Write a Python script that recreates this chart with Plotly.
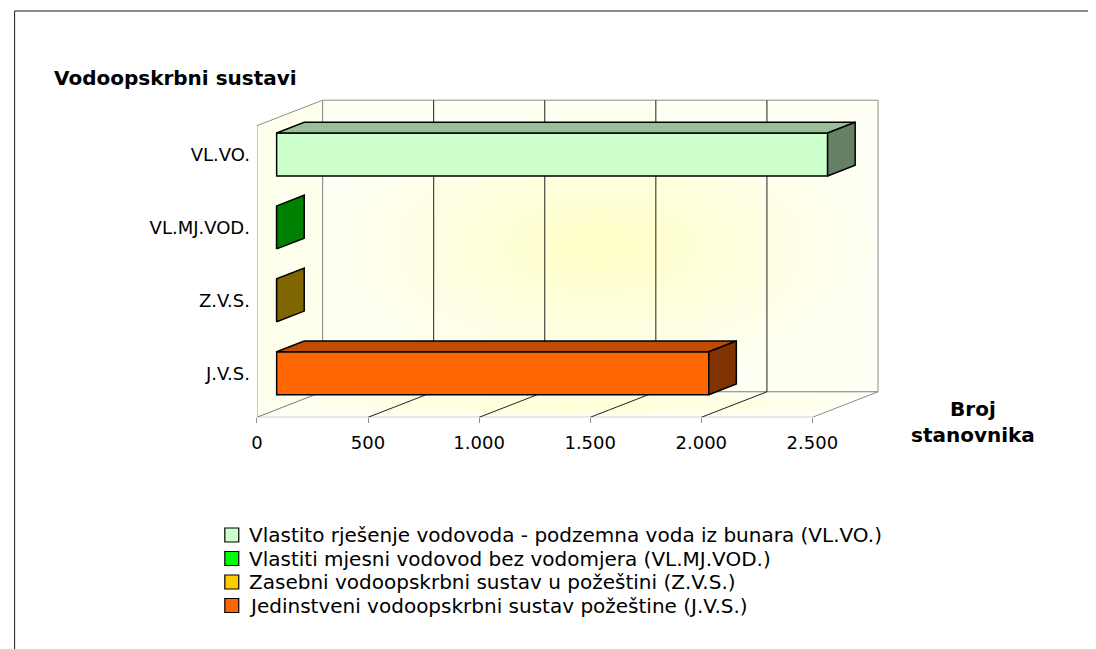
import plotly.graph_objects as go

# --- data ---
categories = ["VL.VO.", "VL.MJ.VOD.", "Z.V.S.", "J.V.S."]
series_names = [
    "Vlastito rješenje vodovoda - podzemna voda iz bunara (VL.VO.)",
    "Vlastiti mjesni vodovod bez vodomjera (VL.MJ.VOD.)",
    "Zasebni vodoopskrbni sustav u požeštini (Z.V.S.)",
    "Jedinstveni vodoopskrbni sustav požeštine (J.V.S.)",
]
stanovnici = [2480, 0, 0, 1945]
bar_colors = ["#CCFFCC", "#00FF00", "#FFCC00", "#FF6600"]
x_ticks = [0, 500, 1000, 1500, 2000, 2500]
x_ticktext = ["0", "500", "1.000", "1.500", "2.000", "2.500"]

FONT = "DejaVu Sans"
OFF = 8                      # default body margin of the html page
W, H = 1096 - OFF, 649 - OFF


def fx(px):
    return (px - OFF) / W


def fy(py):
    return 1 - (py - OFF) / H


# page-pixel geometry of the pseudo-3D box (Excel style)
px_x0, px_per_val = 252.3, 0.2234
px_floor, px_per_cat = 417.3, 72.9
px_right, px_top = 884, 95
DX = 66 / px_per_val          # depth offset in value units
DY = 25.5 / px_per_cat        # depth offset in category units
f1, f2 = 0.30, 0.72           # front / back depth of the bars
half_h = 0.295                # half bar thickness
vmax = x_ticks[-1]
ncat = len(categories)
y_lo, y_hi = -0.5, ncat - 0.5


def shade(hex_color, k):
    h = hex_color.lstrip("#")
    r, g, b = (int(h[i:i + 2], 16) for i in (0, 2, 4))
    return "#%02X%02X%02X" % (round(r * k), round(g * k), round(b * k))


def poly(xs, ys, **kw):
    return go.Scatter(x=xs + xs[:1], y=ys + ys[:1], mode="lines", fill="toself",
                      hoverinfo="skip", showlegend=False, **kw)


fig = go.Figure()

# walls and floor (base subplot, drawn under the bars)
wall_line = dict(color="#8C8C8C", width=1)
fig.add_trace(poly([DX, DX + vmax, DX + vmax, DX],
                   [y_lo + DY, y_lo + DY, y_hi + DY, y_hi + DY],
                   line=wall_line,
                   fillgradient=dict(type="radial",
                                     colorscale=[[0, "#FFFFC6"], [0.6, "#FFFFE4"], [1, "#FFFFF4"]])))
fig.add_trace(poly([0, 0, DX, DX], [y_lo, y_hi, y_hi + DY, y_lo + DY],
                   line=wall_line, fillcolor="#FFFFEE"))
fig.add_trace(poly([0, vmax, vmax + DX, DX], [y_lo, y_lo, y_lo + DY, y_lo + DY],
                   line=wall_line,
                   fillgradient=dict(type="radial",
                                     colorscale=[[0, "#FFFFD2"], [1, "#FFFFF4"]])))

# gridlines on back wall and floor
gx, gy = [], []
for t in x_ticks[1:-1]:
    gx += [DX + t, DX + t, None, t, t + DX, None]
    gy += [y_lo + DY, y_hi + DY, None, y_lo, y_lo + DY, None]
fig.add_trace(go.Scatter(x=gx, y=gy, mode="lines", line=dict(color="#202020", width=1),
                         hoverinfo="skip", showlegend=False))

# bars on an overlaying subplot so they sit above the walls
x0 = f1 * DX
dd, ddy = (f2 - f1) * DX, (f2 - f1) * DY
ypos = [ncat - 1 - i + f1 * DY for i in range(ncat)]
fig.add_trace(go.Bar(y=ypos, x=stanovnici, base=x0, width=2 * half_h, orientation="h",
                     marker=dict(color=bar_colors, line=dict(color="black", width=1.5)),
                     xaxis="x2", yaxis="y2", showlegend=False,
                     customdata=categories, hovertemplate="%{customdata}: %{x}<extra></extra>"))

edge = dict(color="black", width=1.5)
for v, yc, c in zip(stanovnici, ypos, bar_colors):
    yt, yb = yc + half_h, yc - half_h
    if v > 0:
        fig.add_trace(poly([x0, x0 + v, x0 + v + dd, x0 + dd], [yt, yt, yt + ddy, yt + ddy],
                           line=edge, fillcolor=shade(c, 0.75), xaxis="x2", yaxis="y2"))
    xr = x0 + v
    fig.add_trace(poly([xr, xr, xr + dd, xr + dd], [yb, yt, yt + ddy, yb + ddy],
                       line=edge, fillcolor=shade(c, 0.5), xaxis="x2", yaxis="y2"))

xrange = [0, (px_right - px_x0) / px_per_val]
yrange = [y_lo, y_lo + (px_floor - px_top) / px_per_cat]
xdom = [fx(px_x0), fx(px_right)]
ydom = [fy(px_floor), fy(px_top)]

# manual legend (tight Excel-like spacing)
shapes, annotations = [], []
for i, (name, c) in enumerate(zip(series_names, bar_colors)):
    yc = 535 + 23.5 * i
    shapes.append(dict(type="rect", xref="paper", yref="paper",
                       x0=fx(220), x1=fx(234), y0=fy(yc - 7), y1=fy(yc + 7),
                       fillcolor=c, line=dict(color="black", width=1.2)))
    annotations.append(dict(text=name, x=fx(242), y=fy(yc), xref="paper", yref="paper",
                            xanchor="left", yanchor="middle", showarrow=False,
                            font=dict(family=FONT, size=20, color="black")))

# outer chart frame (left edge sits inside the page margin, so keep it at the figure edge)
shapes.append(dict(type="rect", xref="paper", yref="paper", x0=0.6 / W, x1=fx(1093),
                   y0=fy(11), y1=-0.1, line=dict(color="#1A1A1A", width=1),
                   fillcolor="rgba(0,0,0,0)"))

annotations.append(dict(text="<b>Vodoopskrbni sustavi</b>", x=fx(46), y=fy(78),
                        xref="paper", yref="paper", xanchor="left", yanchor="middle",
                        showarrow=False, font=dict(family=FONT, size=20, color="black")))
annotations.append(dict(text="<b>Broj<br>stanovnika</b>", x=fx(972), y=fy(422),
                        xref="paper", yref="paper", xanchor="center", yanchor="middle",
                        align="center", showarrow=False,
                        font=dict(family=FONT, size=20, color="black")))

fig.update_layout(
    width=W, height=H, autosize=False,
    margin=dict(l=0, r=0, t=0, b=0),
    paper_bgcolor="white", plot_bgcolor="rgba(0,0,0,0)",
    barmode="overlay",
    font=dict(family=FONT, color="black"),
    showlegend=False,
    shapes=shapes, annotations=annotations,
    xaxis=dict(domain=xdom, range=xrange, tickvals=x_ticks, ticktext=x_ticktext,
               ticks="outside", ticklen=5, tickcolor="#8C8C8C", showgrid=False,
               zeroline=False, showline=False, tickfont=dict(family=FONT, size=18),
               ticklabelstandoff=4),
    yaxis=dict(domain=ydom, range=yrange, tickvals=ypos, ticktext=categories,
               ticks="", showgrid=False, zeroline=False, showline=False,
               tickfont=dict(family=FONT, size=18), ticklabelstandoff=6),
    xaxis2=dict(overlaying="x", range=xrange, visible=False, showgrid=False, zeroline=False),
    yaxis2=dict(overlaying="y", range=yrange, visible=False, showgrid=False, zeroline=False),
)

fig.write_html("out.html")
